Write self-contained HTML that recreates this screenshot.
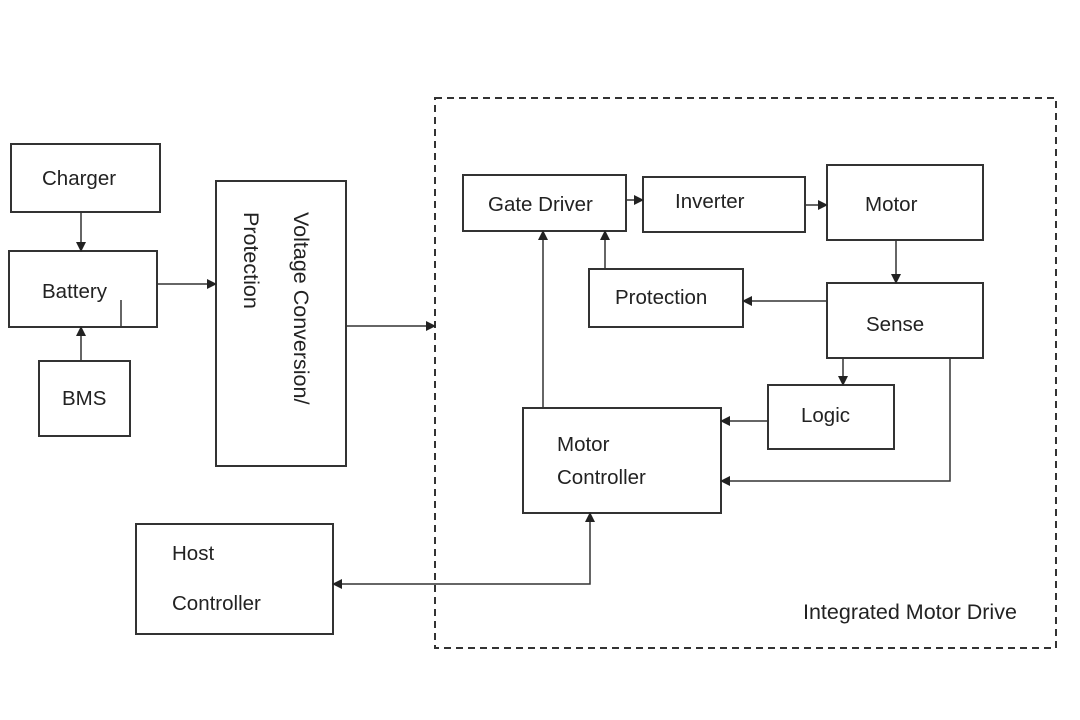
<!DOCTYPE html>
<html><head><style>body{margin:0;background:#fff}svg{display:block}text{font-family:"Liberation Sans",sans-serif;font-size:20.5px;fill:#222}</style></head>
<body>
<svg width="1080" height="720" viewBox="0 0 1080 720">
<defs><marker id="a" markerWidth="10" markerHeight="10" refX="9" refY="5" orient="auto" markerUnits="userSpaceOnUse"><path d="M0,0 L10,5 L0,10 z" fill="#222"/></marker>
<marker id="s" markerWidth="10" markerHeight="10" refX="1" refY="5" orient="auto" markerUnits="userSpaceOnUse"><path d="M10,0 L0,5 L10,10 z" fill="#222"/></marker></defs>
<g fill="none" stroke="#333" stroke-width="2">
<rect x="435" y="98" width="621" height="550" stroke-dasharray="7,5"/>
<rect x="11" y="144" width="149" height="68"/>
<rect x="9" y="251" width="148" height="76"/>
<rect x="39" y="361" width="91" height="75"/>
<rect x="216" y="181" width="130" height="285"/>
<rect x="463" y="175" width="163" height="56"/>
<rect x="643" y="177" width="162" height="55"/>
<rect x="827" y="165" width="156" height="75"/>
<rect x="589" y="269" width="154" height="58"/>
<rect x="827" y="283" width="156" height="75"/>
<rect x="768" y="385" width="126" height="64"/>
<rect x="523" y="408" width="198" height="105"/>
<rect x="136" y="524" width="197" height="110"/>
</g>
<g fill="none" stroke="#333" stroke-width="1.5">
<line x1="121" y1="300" x2="121" y2="327"/>
<line x1="81" y1="212" x2="81" y2="251" marker-end="url(#a)"/>
<line x1="81" y1="361" x2="81" y2="327" marker-end="url(#a)"/>
<line x1="157" y1="284" x2="216" y2="284" marker-end="url(#a)"/>
<line x1="346" y1="326" x2="435" y2="326" marker-end="url(#a)"/>
<line x1="626" y1="200" x2="643" y2="200" marker-end="url(#a)"/>
<line x1="805" y1="205" x2="827" y2="205" marker-end="url(#a)"/>
<line x1="896" y1="240" x2="896" y2="283" marker-end="url(#a)"/>
<line x1="827" y1="301" x2="743" y2="301" marker-end="url(#a)"/>
<line x1="605" y1="269" x2="605" y2="231" marker-end="url(#a)"/>
<line x1="543" y1="408" x2="543" y2="231" marker-end="url(#a)"/>
<line x1="843" y1="358" x2="843" y2="385" marker-end="url(#a)"/>
<line x1="768" y1="421" x2="721" y2="421" marker-end="url(#a)"/>
<polyline points="950,358 950,481 721,481" marker-end="url(#a)"/>
<polyline points="333,584 590,584 590,513" marker-start="url(#s)" marker-end="url(#a)"/>
</g>
<text x="42" y="185">Charger</text>
<text x="42" y="298">Battery</text>
<text x="62" y="405">BMS</text>
<text transform="translate(294,212) rotate(90)" style="font-size:21.5px">Voltage Conversion/</text>
<text transform="translate(244,212) rotate(90)" style="font-size:21.5px">Protection</text>
<text x="488" y="211">Gate Driver</text>
<text x="675" y="208">Inverter</text>
<text x="865" y="211">Motor</text>
<text x="615" y="304">Protection</text>
<text x="866" y="331">Sense</text>
<text x="801" y="422">Logic</text>
<text x="557" y="451">Motor</text>
<text x="557" y="484">Controller</text>
<text x="172" y="560">Host</text>
<text x="172" y="610">Controller</text>
<text x="803" y="619" style="font-size:21.5px">Integrated Motor Drive</text>
</svg>
</body></html>
